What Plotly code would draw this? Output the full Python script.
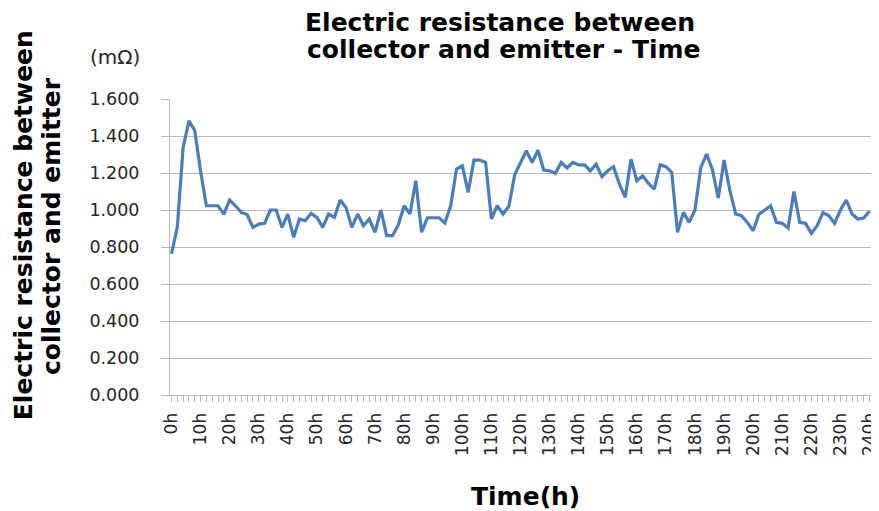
import plotly.graph_objects as go

# Data: elapsed time (h) and collector-emitter resistance (mΩ)
hours = list(range(0, 242, 2))
resistance = [
    0.763, 0.906, 1.338, 1.482, 1.430, 1.210, 1.023, 1.023, 1.023, 0.978,
    1.054, 1.023, 0.987, 0.975, 0.906, 0.924, 0.928, 1.000, 1.000, 0.906,
    0.978, 0.852, 0.951, 0.942, 0.982, 0.960, 0.906, 0.978, 0.960, 1.054,
    1.014, 0.906, 0.978, 0.915, 0.951, 0.879, 1.000, 0.861, 0.861, 0.920,
    1.023, 0.978, 1.158, 0.880, 0.958, 0.958, 0.958, 0.930, 1.023, 1.221,
    1.239, 1.095, 1.270, 1.270, 1.257, 0.952, 1.023, 0.978, 1.020, 1.190,
    1.257, 1.320, 1.257, 1.323, 1.216, 1.212, 1.198, 1.257, 1.227, 1.257,
    1.244, 1.244, 1.212, 1.248, 1.180, 1.212, 1.234, 1.140, 1.068, 1.275,
    1.158, 1.185, 1.144, 1.113, 1.244, 1.234, 1.203, 0.879, 0.987, 0.933,
    1.000, 1.230, 1.302, 1.216, 1.065, 1.270, 1.104, 0.978, 0.969, 0.933,
    0.888, 0.978, 1.000, 1.023, 0.933, 0.928, 0.903, 1.100, 0.933, 0.928,
    0.874, 0.915, 0.987, 0.969, 0.928, 1.000, 1.054, 0.978, 0.951, 0.957,
    0.993,
]
tick_hours = list(range(0, 250, 10))
tick_labels = [f"{h}h" for h in tick_hours]
y_ticks = [0.0, 0.2, 0.4, 0.6, 0.8, 1.0, 1.2, 1.4, 1.6]

FONT = "DejaVu Sans"
GRID = "#bababa"
TXT = "#262626"

# page body has an 8px margin, so the figure is sized/placed to compensate
OFF = 8
W, H = 879 - OFF, 511 - OFF
L, R = 170 - OFF, 0
T = 99 - OFF
B = H - (395 - OFF)
PW, PH = W - L - R, H - T - B


def px(xw):
    return (xw - OFF - L) / PW


def py(yw):
    return (H - B - (yw - OFF)) / PH


fig = go.Figure()
fig.add_trace(go.Scatter(
    x=hours, y=resistance, mode="lines",
    line=dict(color="#4a7ebb", width=3.2),
    hoverinfo="x+y", showlegend=False,
))

fig.update_layout(
    width=W, height=H,
    margin=dict(l=L, r=R, t=T, b=B, pad=0),
    paper_bgcolor="white", plot_bgcolor="white",
    font=dict(family=FONT, color=TXT),
    xaxis=dict(
        range=[-0.51, 241.2],
        tickmode="array", tickvals=tick_hours, ticktext=tick_labels,
        tickangle=-90, tickfont=dict(family=FONT, size=17, color=TXT),
        ticks="outside", ticklen=6, tickcolor=GRID, tickwidth=1,
        minor=dict(dtick=2, ticks="outside", ticklen=6, tickcolor=GRID, tickwidth=1, showgrid=False),
        ticklabelstandoff=4, ticklabeloverflow="allow",
        showline=True, linecolor=GRID, linewidth=1,
        showgrid=False, zeroline=False,
    ),
    yaxis=dict(
        range=[0, 1.6],
        tickmode="array", tickvals=y_ticks, tickformat=".3f",
        tickfont=dict(family=FONT, size=17.5, color=TXT),
        ticks="outside", ticklen=8, tickcolor=GRID, tickwidth=1,
        ticklabelstandoff=18,
        showline=True, linecolor=GRID, linewidth=1,
        showgrid=True, gridcolor=GRID, gridwidth=1,
        zeroline=False,
    ),
)

big = dict(family=FONT, size=25, color="#000000")

# Chart title (two lines)
for txt, xw, yw in [("Electric resistance between", 503, 22),
                    ("collector and emitter - Time", 507, 50)]:
    fig.add_annotation(text=f"<b>{txt}</b>", showarrow=False,
                       xref="paper", yref="paper", x=px(xw), y=py(yw),
                       xanchor="center", yanchor="middle", font=big)

# Y-axis title (two lines, rotated)
for txt, xw, yw in [("Electric resistance between", 22, 225),
                    ("collector and emitter", 50, 226)]:
    fig.add_annotation(text=f"<b>{txt}</b>", showarrow=False, textangle=-90,
                       xref="paper", yref="paper", x=px(xw), y=py(yw),
                       xanchor="center", yanchor="middle", font=big)

# Unit label
fig.add_annotation(
    text="(mΩ)", showarrow=False,
    xref="paper", yref="paper", x=px(115), y=py(57),
    xanchor="center", yanchor="middle",
    font=dict(family=FONT, size=20, color=TXT),
)
# X-axis title
fig.add_annotation(
    text="<b>Time(h)</b>", showarrow=False,
    xref="paper", yref="paper", x=px(529), y=py(496),
    xanchor="center", yanchor="middle", font=big,
)

fig.write_html("out.html")
